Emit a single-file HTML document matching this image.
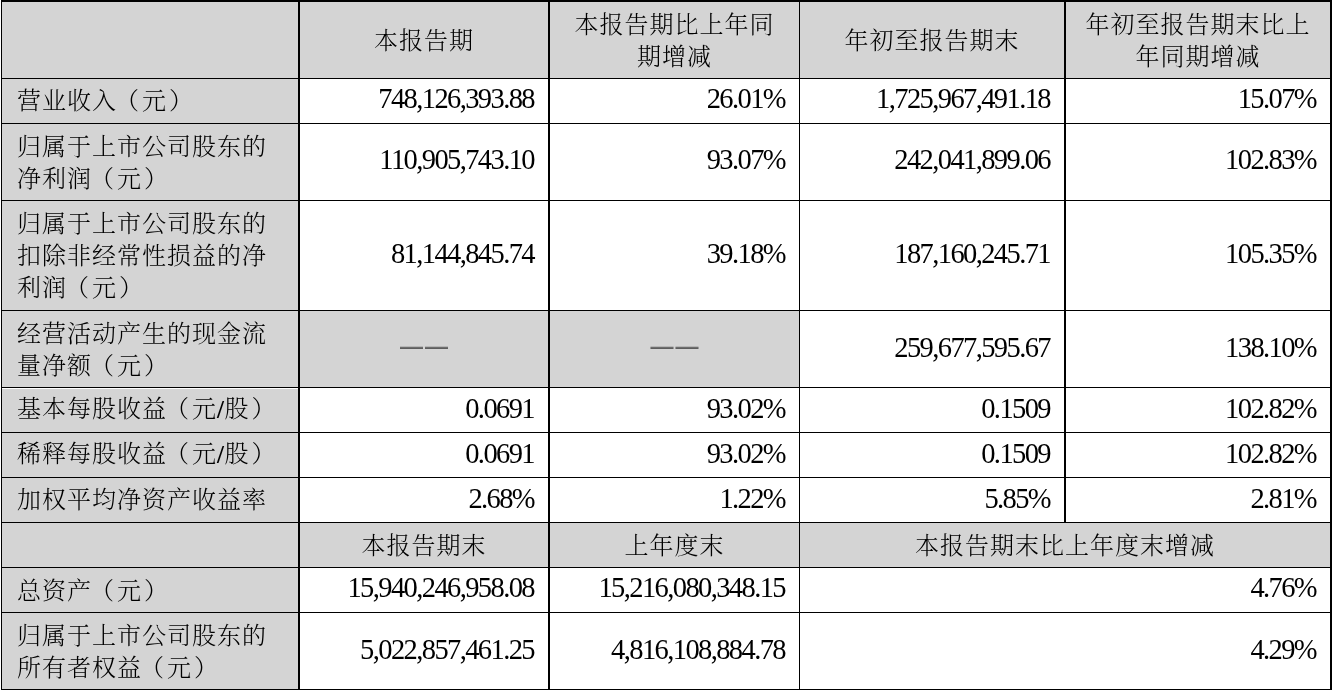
<!DOCTYPE html>
<html lang="zh-CN"><head><meta charset="utf-8"><title>主要会计数据和财务指标</title>
<style>
html,body{margin:0;padding:0;background:#fff;}
body{width:1334px;height:698px;position:relative;overflow:hidden;}
#t{position:absolute;left:0;top:0;width:1334px;height:698px;will-change:transform;}
.c{position:absolute;display:flex;align-items:center;box-sizing:border-box;color:#000;
 font-family:"Liberation Serif","Noto Serif CJK SC",serif;}
.c span{position:relative;}
.g{background:#d4d4d4;}
.l{justify-content:flex-start;padding-left:15px;}
.r{justify-content:flex-end;padding-right:14px;}
.m{justify-content:center;text-align:center;}
.t{font-family:"Noto Serif CJK SC",serif;font-size:24px;letter-spacing:1px;line-height:32px;font-weight:300;}
.n{font-family:"Liberation Serif",serif;font-size:28.5px;letter-spacing:-1.6px;line-height:32px;}
.d{font-family:"WenQuanYi Zen Hei","Noto Sans CJK SC",sans-serif;font-size:23px;letter-spacing:2px;line-height:32px;color:#000;text-shadow:0 -0.6px 0 rgba(0,0,0,0.55);}
.d span{left:1px;}
.ln{position:absolute;background:#000;}
.rp{left:2px;}
.lp{left:-2px;}
.sl{font-family:"Liberation Serif",serif;letter-spacing:0.5px;font-size:25px;font-weight:bold;top:1px;}
</style></head><body><div id="t">
<div class="c g l t" style="left:2px;top:2px;width:296px;height:76px"><span style="top:-1px"></span></div>
<div class="c g m t" style="left:300px;top:2px;width:248px;height:76px"><span style="top:-1px">本报告期</span></div>
<div class="c g m t" style="left:550px;top:2px;width:249px;height:76px"><span style="top:-1px">本报告期比上年同<br>期增减</span></div>
<div class="c g m t" style="left:800px;top:2px;width:264px;height:76px"><span style="top:-1px">年初至报告期末</span></div>
<div class="c g m t" style="left:1066px;top:2px;width:264px;height:76px"><span style="top:-1px">年初至报告期末比上<br>年同期增减</span></div>
<div class="c g l t" style="left:2px;top:79px;width:296px;height:44px"><span style="top:-2px">营业收入<span class="lp">（</span>元<span class="rp">）</span></span></div>
<div class="c r n" style="left:300px;top:79px;width:248px;height:44px"><span style="top:-2px">748,126,393.88</span></div>
<div class="c r n" style="left:550px;top:79px;width:249px;height:44px"><span style="top:-2px">26.01%</span></div>
<div class="c r n" style="left:800px;top:79px;width:264px;height:44px"><span style="top:-2px">1,725,967,491.18</span></div>
<div class="c r n" style="left:1066px;top:79px;width:264px;height:44px"><span style="top:-2px">15.07%</span></div>
<div class="c g l t" style="left:2px;top:124px;width:296px;height:76px"><span style="top:-1px">归属于上市公司股东的<br>净利润<span class="lp">（</span>元<span class="rp">）</span></span></div>
<div class="c r n" style="left:300px;top:124px;width:248px;height:76px"><span style="top:-2px">110,905,743.10</span></div>
<div class="c r n" style="left:550px;top:124px;width:249px;height:76px"><span style="top:-2px">93.07%</span></div>
<div class="c r n" style="left:800px;top:124px;width:264px;height:76px"><span style="top:-2px">242,041,899.06</span></div>
<div class="c r n" style="left:1066px;top:124px;width:264px;height:76px"><span style="top:-2px">102.83%</span></div>
<div class="c g l t" style="left:2px;top:201px;width:296px;height:109px"><span style="top:-2px">归属于上市公司股东的<br>扣除非经常性损益的净<br>利润<span class="lp">（</span>元<span class="rp">）</span></span></div>
<div class="c r n" style="left:300px;top:201px;width:248px;height:109px"><span style="top:-2px">81,144,845.74</span></div>
<div class="c r n" style="left:550px;top:201px;width:249px;height:109px"><span style="top:-2px">39.18%</span></div>
<div class="c r n" style="left:800px;top:201px;width:264px;height:109px"><span style="top:-2px">187,160,245.71</span></div>
<div class="c r n" style="left:1066px;top:201px;width:264px;height:109px"><span style="top:-2px">105.35%</span></div>
<div class="c g l t" style="left:2px;top:311px;width:296px;height:76px"><span style="top:-1px">经营活动产生的现金流<br>量净额<span class="lp">（</span>元<span class="rp">）</span></span></div>
<div class="c g m d" style="left:300px;top:311px;width:248px;height:76px"><span style="top:-1px">——</span></div>
<div class="c g m d" style="left:550px;top:311px;width:249px;height:76px"><span style="top:-1px">——</span></div>
<div class="c r n" style="left:800px;top:311px;width:264px;height:76px"><span style="top:-1px">259,677,595.67</span></div>
<div class="c r n" style="left:1066px;top:311px;width:264px;height:76px"><span style="top:-1px">138.10%</span></div>
<div class="c g l t" style="left:2px;top:388px;width:296px;height:44px"><span style="top:-2px">基本每股收益<span class="lp">（</span>元<span class="sl">/</span>股<span class="rp">）</span></span></div>
<div class="c r n" style="left:300px;top:388px;width:248px;height:44px"><span style="top:-1px">0.0691</span></div>
<div class="c r n" style="left:550px;top:388px;width:249px;height:44px"><span style="top:-1px">93.02%</span></div>
<div class="c r n" style="left:800px;top:388px;width:264px;height:44px"><span style="top:-1px">0.1509</span></div>
<div class="c r n" style="left:1066px;top:388px;width:264px;height:44px"><span style="top:-1px">102.82%</span></div>
<div class="c g l t" style="left:2px;top:433px;width:296px;height:44px"><span style="top:-2px">稀释每股收益<span class="lp">（</span>元<span class="sl">/</span>股<span class="rp">）</span></span></div>
<div class="c r n" style="left:300px;top:433px;width:248px;height:44px"><span style="top:-1px">0.0691</span></div>
<div class="c r n" style="left:550px;top:433px;width:249px;height:44px"><span style="top:-1px">93.02%</span></div>
<div class="c r n" style="left:800px;top:433px;width:264px;height:44px"><span style="top:-1px">0.1509</span></div>
<div class="c r n" style="left:1066px;top:433px;width:264px;height:44px"><span style="top:-1px">102.82%</span></div>
<div class="c g l t" style="left:2px;top:478px;width:296px;height:44px"><span style="top:-2px">加权平均净资产收益率</span></div>
<div class="c r n" style="left:300px;top:478px;width:248px;height:44px"><span style="top:-1px">2.68%</span></div>
<div class="c r n" style="left:550px;top:478px;width:249px;height:44px"><span style="top:-1px">1.22%</span></div>
<div class="c r n" style="left:800px;top:478px;width:264px;height:44px"><span style="top:-1px">5.85%</span></div>
<div class="c r n" style="left:1066px;top:478px;width:264px;height:44px"><span style="top:-1px">2.81%</span></div>
<div class="c g l t" style="left:2px;top:523px;width:296px;height:44px"><span style="top:-1px"></span></div>
<div class="c g m t" style="left:300px;top:523px;width:248px;height:44px"><span style="top:-1px">本报告期末</span></div>
<div class="c g m t" style="left:550px;top:523px;width:249px;height:44px"><span style="top:-1px">上年度末</span></div>
<div class="c g m t" style="left:800px;top:523px;width:530px;height:44px"><span style="top:-1px">本报告期末比上年度末增减</span></div>
<div class="c g l t" style="left:2px;top:568px;width:296px;height:44px"><span style="top:-1px">总资产<span class="lp">（</span>元<span class="rp">）</span></span></div>
<div class="c r n" style="left:300px;top:568px;width:248px;height:44px"><span style="top:-2px">15,940,246,958.08</span></div>
<div class="c r n" style="left:550px;top:568px;width:249px;height:44px"><span style="top:-2px">15,216,080,348.15</span></div>
<div class="c r n" style="left:800px;top:568px;width:530px;height:44px"><span style="top:-2px">4.76%</span></div>
<div class="c g l t" style="left:2px;top:613px;width:296px;height:76px"><span style="top:-1px">归属于上市公司股东的<br>所有者权益<span class="lp">（</span>元<span class="rp">）</span></span></div>
<div class="c r n" style="left:300px;top:613px;width:248px;height:76px"><span style="top:-1px">5,022,857,461.25</span></div>
<div class="c r n" style="left:550px;top:613px;width:249px;height:76px"><span style="top:-1px">4,816,108,884.78</span></div>
<div class="c r n" style="left:800px;top:613px;width:530px;height:76px"><span style="top:-1px">4.29%</span></div>
<div style="position:absolute;left:2px;top:388px;width:296px;height:1px;background:#fff"></div>
<div class="ln" style="left:1px;top:0px;width:1331px;height:2px"></div>
<div class="ln" style="left:1px;top:78px;width:1331px;height:1px"></div>
<div class="ln" style="left:1px;top:123px;width:1331px;height:1px"></div>
<div class="ln" style="left:1px;top:200px;width:1331px;height:1px"></div>
<div class="ln" style="left:1px;top:310px;width:1331px;height:1px"></div>
<div class="ln" style="left:1px;top:387px;width:1331px;height:1px"></div>
<div class="ln" style="left:1px;top:432px;width:1331px;height:1px"></div>
<div class="ln" style="left:1px;top:477px;width:1331px;height:1px"></div>
<div class="ln" style="left:1px;top:522px;width:1331px;height:1px"></div>
<div class="ln" style="left:1px;top:567px;width:1331px;height:1px"></div>
<div class="ln" style="left:1px;top:612px;width:1331px;height:1px"></div>
<div class="ln" style="left:1px;top:689px;width:1331px;height:1px"></div>
<div class="ln" style="left:1px;top:0px;width:1px;height:690px"></div>
<div class="ln" style="left:298px;top:0px;width:2px;height:690px"></div>
<div class="ln" style="left:548px;top:0px;width:2px;height:690px"></div>
<div class="ln" style="left:799px;top:0px;width:1px;height:690px"></div>
<div class="ln" style="left:1064px;top:0px;width:2px;height:523px"></div>
<div class="ln" style="left:1330px;top:0px;width:2px;height:690px"></div>
</div></body></html>
